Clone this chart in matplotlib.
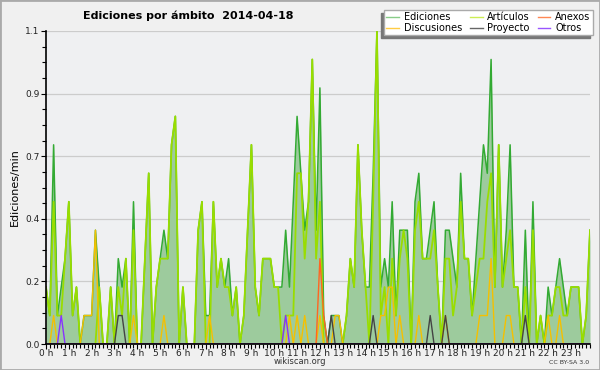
import numpy as np
from matplotlib import pyplot as plt
from matplotlib.lines import Line2D
from matplotlib.patches import Rectangle
from matplotlib.ticker import FixedLocator, MultipleLocator

plt.close('all')

# edits per minute, 10 minute bins over the day (12 values = 2 hours per row)
ediciones = [
    0.2, 0.1, 0.7, 0.1, 0.2, 0.3, 0.5, 0.1, 0.2, 0.0, 0.1, 0.1,
    0.1, 0.4, 0.2, 0.0, 0.0, 0.2, 0.0, 0.3, 0.2, 0.3, 0.0, 0.5,
    0.0, 0.0, 0.3, 0.6, 0.0, 0.2, 0.3, 0.4, 0.3, 0.7, 0.8, 0.0,
    0.2, 0.0, 0.0, 0.0, 0.4, 0.5, 0.1, 0.1, 0.5, 0.2, 0.3, 0.2,
    0.3, 0.1, 0.2, 0.0, 0.1, 0.4, 0.7, 0.2, 0.1, 0.3, 0.3, 0.3,
    0.2, 0.2, 0.2, 0.4, 0.2, 0.5, 0.8, 0.6, 0.4, 0.5, 1.0, 0.4,
    0.9, 0.1, 0.0, 0.1, 0.1, 0.1, 0.0, 0.1, 0.3, 0.2, 0.7, 0.4,
    0.2, 0.2, 0.6, 1.1, 0.2, 0.3, 0.2, 0.5, 0.1, 0.4, 0.4, 0.4,
    0.0, 0.5, 0.6, 0.3, 0.3, 0.4, 0.5, 0.2, 0.0, 0.4, 0.4, 0.3,
    0.2, 0.6, 0.3, 0.3, 0.1, 0.3, 0.5, 0.7, 0.6, 1.0, 0.2, 0.7,
    0.2, 0.4, 0.7, 0.2, 0.2, 0.0, 0.4, 0.0, 0.5, 0.0, 0.1, 0.0,
    0.2, 0.1, 0.2, 0.3, 0.2, 0.1, 0.2, 0.2, 0.2, 0.0, 0.1, 0.4,
]
articulos = [
    0.2, 0.1, 0.5, 0.1, 0.1, 0.3, 0.5, 0.1, 0.2, 0.0, 0.0, 0.0,
    0.0, 0.0, 0.2, 0.0, 0.0, 0.2, 0.0, 0.2, 0.1, 0.3, 0.0, 0.4,
    0.0, 0.0, 0.3, 0.6, 0.0, 0.2, 0.3, 0.3, 0.3, 0.7, 0.8, 0.0,
    0.2, 0.0, 0.0, 0.0, 0.4, 0.5, 0.0, 0.0, 0.5, 0.2, 0.3, 0.2,
    0.2, 0.1, 0.2, 0.0, 0.1, 0.4, 0.7, 0.2, 0.1, 0.3, 0.3, 0.3,
    0.2, 0.2, 0.0, 0.1, 0.1, 0.1, 0.6, 0.6, 0.3, 0.5, 1.0, 0.3,
    0.5, 0.0, 0.0, 0.0, 0.0, 0.0, 0.0, 0.1, 0.3, 0.2, 0.7, 0.4,
    0.2, 0.0, 0.5, 1.1, 0.1, 0.2, 0.0, 0.3, 0.1, 0.3, 0.4, 0.3,
    0.0, 0.4, 0.5, 0.3, 0.3, 0.3, 0.4, 0.2, 0.0, 0.3, 0.3, 0.1,
    0.2, 0.5, 0.3, 0.3, 0.1, 0.2, 0.3, 0.3, 0.5, 0.6, 0.2, 0.7,
    0.2, 0.3, 0.4, 0.2, 0.2, 0.0, 0.2, 0.0, 0.4, 0.0, 0.1, 0.0,
    0.1, 0.1, 0.2, 0.2, 0.1, 0.1, 0.2, 0.2, 0.2, 0.0, 0.1, 0.4,
]
discusiones = [
    0.0, 0.0, 0.1, 0.0, 0.0, 0.0, 0.0, 0.0, 0.0, 0.0, 0.1, 0.1,
    0.1, 0.4, 0.0, 0.0, 0.0, 0.0, 0.0, 0.0, 0.0, 0.0, 0.0, 0.1,
    0.0, 0.0, 0.0, 0.0, 0.0, 0.0, 0.0, 0.1, 0.0, 0.0, 0.0, 0.0,
    0.0, 0.0, 0.0, 0.0, 0.0, 0.0, 0.0, 0.1, 0.0, 0.0, 0.0, 0.0,
    0.0, 0.0, 0.0, 0.0, 0.0, 0.0, 0.0, 0.0, 0.0, 0.0, 0.0, 0.0,
    0.0, 0.0, 0.0, 0.0, 0.1, 0.0, 0.1, 0.0, 0.1, 0.0, 0.0, 0.0,
    0.1, 0.0, 0.0, 0.0, 0.1, 0.1, 0.0, 0.0, 0.0, 0.0, 0.0, 0.0,
    0.0, 0.0, 0.0, 0.0, 0.1, 0.1, 0.2, 0.2, 0.0, 0.1, 0.0, 0.0,
    0.0, 0.0, 0.1, 0.0, 0.0, 0.0, 0.0, 0.0, 0.0, 0.1, 0.0, 0.0,
    0.0, 0.0, 0.0, 0.0, 0.0, 0.0, 0.1, 0.1, 0.1, 0.3, 0.0, 0.0,
    0.0, 0.1, 0.1, 0.0, 0.0, 0.0, 0.0, 0.0, 0.0, 0.0, 0.0, 0.0,
    0.1, 0.0, 0.0, 0.1, 0.0, 0.0, 0.0, 0.0, 0.0, 0.0, 0.0, 0.0,
]
proyecto = [
    0.0, 0.0, 0.0, 0.0, 0.0, 0.0, 0.0, 0.0, 0.0, 0.0, 0.0, 0.0,
    0.0, 0.0, 0.0, 0.0, 0.0, 0.0, 0.0, 0.1, 0.1, 0.0, 0.0, 0.0,
    0.0, 0.0, 0.0, 0.0, 0.0, 0.0, 0.0, 0.0, 0.0, 0.0, 0.0, 0.0,
    0.0, 0.0, 0.0, 0.0, 0.0, 0.0, 0.0, 0.0, 0.0, 0.0, 0.0, 0.0,
    0.0, 0.0, 0.0, 0.0, 0.0, 0.0, 0.0, 0.0, 0.0, 0.0, 0.0, 0.0,
    0.0, 0.0, 0.0, 0.0, 0.0, 0.0, 0.0, 0.0, 0.0, 0.0, 0.0, 0.0,
    0.0, 0.0, 0.0, 0.1, 0.0, 0.0, 0.0, 0.0, 0.0, 0.0, 0.0, 0.0,
    0.0, 0.0, 0.1, 0.0, 0.0, 0.0, 0.0, 0.0, 0.0, 0.0, 0.0, 0.0,
    0.0, 0.0, 0.0, 0.0, 0.0, 0.1, 0.0, 0.0, 0.0, 0.1, 0.0, 0.0,
    0.0, 0.0, 0.0, 0.0, 0.0, 0.0, 0.0, 0.0, 0.0, 0.0, 0.0, 0.0,
    0.0, 0.0, 0.0, 0.0, 0.0, 0.0, 0.1, 0.0, 0.0, 0.0, 0.0, 0.0,
    0.0, 0.0, 0.0, 0.0, 0.0, 0.0, 0.0, 0.0, 0.0, 0.0, 0.0, 0.0,
]
# sparse series: bin index -> value
anexos = {72: 0.3, 73: 0.1}
otros = {4: 0.1, 63: 0.1}

n_bins = len(ediciones)
x = np.arange(n_bins) / 6.0  # hours

y_ticks = [0.0, 0.22, 0.44, 0.66, 0.88, 1.1]
y_ticklabels = ['0.0', '0.2', '0.4', '0.7', '0.9', '1.1']
hours = np.arange(24)
hour_labels = ['%d h' % h for h in hours]

series_colors = {
    'Ediciones': '#33aa33',
    'Artículos': '#99dd00',
    'Anexos': '#ff6622',
    'Discusiones': '#f5c000',
    'Proyecto': '#444444',
    'Otros': '#8833ff',
}


def sparse(d):
    arr = np.zeros(n_bins)
    for k, v in d.items():
        arr[k] = v
    return arr


fig = plt.figure(figsize=(6, 3.7), dpi=100, facecolor='#f0f0f0')
ax = fig.add_axes([46 / 600, 1 - 344 / 370, 544 / 600, 313 / 370])
ax.set_facecolor('#eff0f2')

ax.fill_between(x, ediciones, color='#9dcb9d', lw=0, zorder=1)
ax.plot(x, ediciones, color=series_colors['Ediciones'], lw=1.1, zorder=2)
ax.plot(x, articulos, color=series_colors['Artículos'], lw=1.3, zorder=3)
ax.plot(x, discusiones, color=series_colors['Discusiones'], lw=1.0, zorder=4)
ax.plot(x, proyecto, color=series_colors['Proyecto'], lw=1.0, zorder=4)
ax.plot(x, sparse(anexos), color=series_colors['Anexos'], lw=1.0, zorder=4)
ax.plot(x, sparse(otros), color=series_colors['Otros'], lw=1.0, zorder=4)

ax.set_xlim(0, x[-1])
ax.set_ylim(0, 1.1)

ax.yaxis.set_major_locator(FixedLocator(y_ticks))
ax.set_yticklabels(y_ticklabels)
ax.yaxis.set_minor_locator(MultipleLocator(0.055))
ax.set_xticks(hours)
ax.set_xticklabels(hour_labels)
ax.xaxis.set_minor_locator(MultipleLocator(1 / 6))

ax.tick_params(axis='both', which='major', labelsize=6.5, length=3.5,
               width=0.8, color='black', labelcolor='#222222', pad=1)
ax.tick_params(axis='x', which='major', pad=0)
ax.tick_params(axis='both', which='minor', length=3, width=0.8, color='black')
ax.grid(axis='y', which='major', color='#cccccc', lw=0.9)
ax.set_axisbelow(True)

for s in ['top', 'right']:
    ax.spines[s].set_visible(False)
for s in ['left', 'bottom']:
    ax.spines[s].set_linewidth(1.2)
    ax.spines[s].set_zorder(6)

ax.set_ylabel('Ediciones/min', fontsize=8, labelpad=4)

fig.text(188 / 600, 1 - 16 / 370, 'Ediciones por ámbito  2014-04-18',
         ha='center', va='center', fontsize=8, fontweight='bold')
fig.text(300 / 600, 1 - 362 / 370, 'wikiscan.org', ha='center', va='center',
         fontsize=6, color='#333333')
fig.text(589 / 600, 1 - 362 / 370, 'CC BY-SA 3.0', ha='right', va='center',
         fontsize=4.5, color='#333333')

# legend: column-wise order gives the 3x2 layout of the original
order = ['Ediciones', 'Discusiones', 'Artículos', 'Proyecto', 'Anexos', 'Otros']
legend_colors = {
    'Ediciones': '#88cc88', 'Discusiones': '#ffcc44', 'Artículos': '#ccee55',
    'Proyecto': '#666666', 'Anexos': '#ff8855', 'Otros': '#9955ff',
}
handles = [Line2D([], [], color=legend_colors[k], lw=1.0) for k in order]
leg = fig.legend(handles, order, loc='upper right',
                 bbox_to_anchor=(593 / 600, 1 - 10 / 370), ncol=3,
                 fontsize=7, frameon=True, fancybox=False, framealpha=1,
                 edgecolor='#aaaaaa', facecolor='white', borderpad=0.25,
                 labelspacing=0.05, handlelength=1.3, handletextpad=0.5,
                 columnspacing=0.8, borderaxespad=0)
leg.get_frame().set_linewidth(1.0)
leg.set_zorder(10)

fig.canvas.draw()
bb = leg.get_window_extent().transformed(fig.transFigure.inverted())
fig.add_artist(Rectangle((bb.x0 - 3 / 600, bb.y0 - 3 / 370), bb.width, bb.height,
                         transform=fig.transFigure, color='#777777', zorder=9))

# figure border
fig.add_artist(Rectangle((0, 0), 1, 1, transform=fig.transFigure, fill=False,
                         edgecolor='#aaaaaa', lw=2, zorder=20))

fig.savefig('out.png', dpi=100, facecolor=fig.get_facecolor())
